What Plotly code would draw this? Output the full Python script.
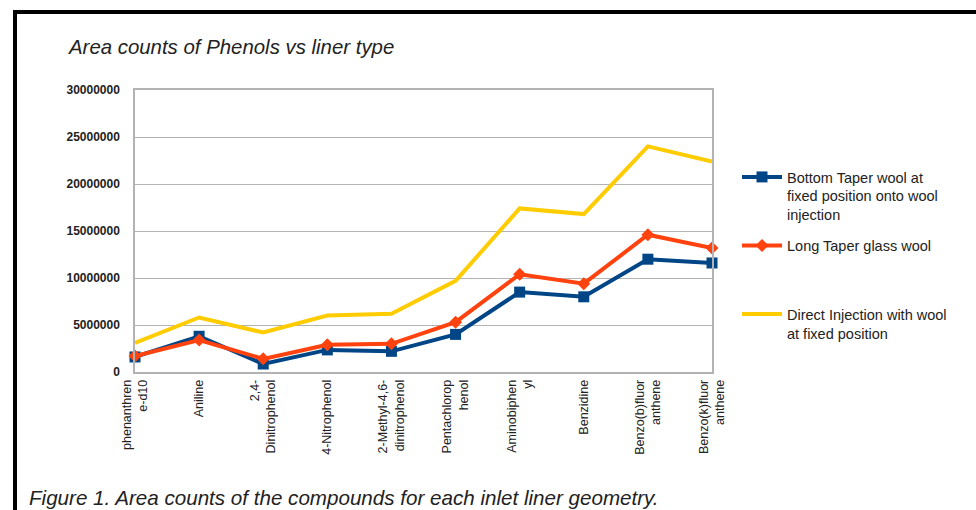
import plotly.graph_objects as go

# Compounds (x categories) and tick labels as they wrap under the axis
compounds = ["phenanthrene-d10", "Aniline", "2,4-Dinitrophenol", "4-Nitrophenol",
             "2-Methyl-4,6-dinitrophenol", "Pentachlorophenol", "Aminobiphenyl",
             "Benzidine", "Benzo(b)fluoranthene", "Benzo(k)fluoranthene"]
tick_labels = ["phenanthren<br>e-d10", "Aniline", "2,4-<br>Dinitrophenol", "4-Nitrophenol",
               "2-Methyl-4,6-<br>dinitrophenol", "Pentachlorop<br>henol", "Aminobiphen<br>yl",
               "Benzidine", "Benzo(b)fluor<br>anthene", "Benzo(k)fluor<br>anthene"]

# Area counts per liner type
bottom_taper = [1600000, 3800000, 850000, 2350000, 2200000, 4000000, 8500000, 8000000, 12000000, 11600000]
long_taper = [1700000, 3400000, 1400000, 2900000, 3000000, 5300000, 10400000, 9400000, 14600000, 13200000]
direct_inj = [3100000, 5800000, 4200000, 6000000, 6200000, 9700000, 17400000, 16800000, 24000000, 22400000]

series_names = ["Bottom Taper wool at<br>fixed position onto wool<br>injection",
                "Long Taper glass wool<br> <br> ",
                "Direct Injection with wool<br>at fixed position"]

W, H = 976, 510
FONT = "Liberation Sans, Arial, sans-serif"

x_idx = list(range(len(compounds)))

fig = go.Figure()
fig.add_trace(go.Scatter(
    x=x_idx, y=bottom_taper, name=series_names[0], mode="lines+markers", legendgroup="a",
    line=dict(color="#004586", width=4), marker=dict(symbol="square", size=11, color="#004586"),
    cliponaxis=False, customdata=compounds))
fig.add_trace(go.Scatter(
    x=x_idx, y=long_taper, name=series_names[1], mode="lines+markers", legendgroup="b",
    line=dict(color="#ff420e", width=4), marker=dict(symbol="diamond", size=10, color="#ff420e"),
    cliponaxis=False, customdata=compounds))
fig.add_trace(go.Scatter(
    x=x_idx, y=direct_inj, name=series_names[2], mode="lines", legendgroup="c",
    line=dict(color="#ffcc00", width=4),
    cliponaxis=False, customdata=compounds))


def px_x(p):
    return p / W


def px_y(p):
    return 1 - p / H


fig.update_layout(
    width=W, height=H,
    margin=dict(l=0, r=0, t=0, b=0, pad=0, autoexpand=False),
    paper_bgcolor="white", plot_bgcolor="white",
    font=dict(family=FONT, color="#222222"),
    xaxis=dict(
        domain=[px_x(135), px_x(712)], range=[0, 9], automargin=False,
        tickmode="array", tickvals=x_idx, ticktext=tick_labels, tickangle=-90,
        tickfont=dict(size=12.5, color="#222222"),
        showgrid=False, zeroline=False,
        showline=True, linecolor="#b3b3b3", linewidth=1.5, mirror=True,
        ticks="", ticklabelstandoff=1, fixedrange=True),
    yaxis=dict(
        domain=[px_y(372), px_y(90)], range=[0, 30000000], dtick=5000000, automargin=False,
        tickformat="d", tickfont=dict(size=12, color="#222222", weight="bold"),
        showgrid=True, gridcolor="#b3b3b3", gridwidth=1.2, zeroline=False,
        showline=True, linecolor="#b3b3b3", linewidth=1.5, mirror=True,
        ticks="", ticklabelstandoff=11, fixedrange=True),
    legend=dict(
        x=px_x(737), y=px_y(161), xanchor="left", yanchor="top",
        valign="top", font=dict(size=14.5, color="#222222"),
        itemwidth=40, tracegroupgap=9, bgcolor="rgba(0,0,0,0)"),
    showlegend=True,
    annotations=[
        dict(text="Area counts of Phenols vs liner type", x=px_x(66), y=px_y(47),
             xref="paper", yref="paper", xanchor="left", yanchor="middle", showarrow=False,
             font=dict(size=20.4, style="italic", color="#222222")),
        dict(text="Figure 1. Area counts of the compounds for each inlet liner geometry.",
             x=px_x(27), y=px_y(497), xref="paper", yref="paper", xanchor="left", yanchor="middle",
             showarrow=False, font=dict(size=20.6, style="italic", color="#222222")),
    ],
    shapes=[
        # black frame around the figure block (top and left edges)
        dict(type="line", xref="paper", yref="paper", x0=px_x(15), x1=1.01, y0=px_y(12), y1=px_y(12),
             line=dict(color="black", width=4)),
        dict(type="line", xref="paper", yref="paper", x0=px_x(15), x1=px_x(15), y0=px_y(10), y1=-0.02,
             line=dict(color="black", width=4)),
    ],
)

fig.write_html("out.html")
